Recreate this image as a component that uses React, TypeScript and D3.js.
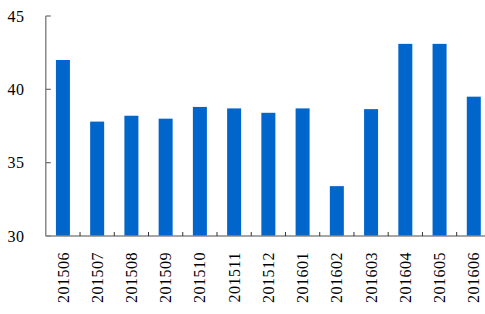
import React from "react";
import * as d3 from "d3";

const categories = ["201506","201507","201508","201509","201510","201511","201512","201601","201602","201603","201604","201605","201606"];
const values = [42.0, 37.8, 38.2, 38.0, 38.8, 38.7, 38.4, 38.7, 33.4, 38.65, 43.1, 43.1, 39.5];
const yTicks = [30, 35, 40, 45];

export default function App() {
  const W = 485, H = 314;
  const left = 45.8, top = 16, bottom = 236;
  const band = 34.24;
  const x = d3.scaleBand<string>().domain(categories).range([left, left + band * categories.length]).paddingInner(0).paddingOuter(0);
  const y = d3.scaleLinear().domain([30, 45]).range([bottom, top]);
  const barW = 14;
  const font = "'Liberation Serif', 'Times New Roman', serif";
  const boundaries = categories.map((_, i) => left + band * (i + 1));
  return (
    <svg width={W} height={H} style={{ position: "absolute", left: 0, top: 0, background: "#fff" }}>
      {categories.map((c, i) => (
        <rect key={c} x={(x(c) as number) + x.bandwidth() / 2 - barW / 2} y={y(values[i])} width={barW} height={bottom - y(values[i])} fill="#0066CC" />
      ))}
      <line x1={left} x2={left} y1={top} y2={bottom} stroke="#777" strokeWidth={1.3} />
      {yTicks.map(t => (
        <g key={t}>
          <line x1={left} x2={left + 5} y1={y(t)} y2={y(t)} stroke="#777" strokeWidth={1.3} />
          <text x={24.5} y={y(t)} dy="0.35em" textAnchor="end" fontFamily={font} fontSize={16} letterSpacing={0.5} fill="#000">{t}</text>
        </g>
      ))}
      <line x1={left} x2={W} y1={bottom} y2={bottom} stroke="#888" strokeWidth={1.5} />
      {boundaries.map((b, i) => (
        <line key={i} x1={b} x2={b} y1={bottom} y2={bottom - 4} stroke="#333" strokeWidth={1} />
      ))}
      {categories.map(c => {
        const cx = (x(c) as number) + x.bandwidth() / 2;
        return (
          <text key={c} transform={`translate(${cx},252) rotate(-90)`} dy="0.35em" textAnchor="end" fontFamily={font} fontSize={16} letterSpacing={0.5} fill="#000">{c}</text>
        );
      })}
    </svg>
  );
}
